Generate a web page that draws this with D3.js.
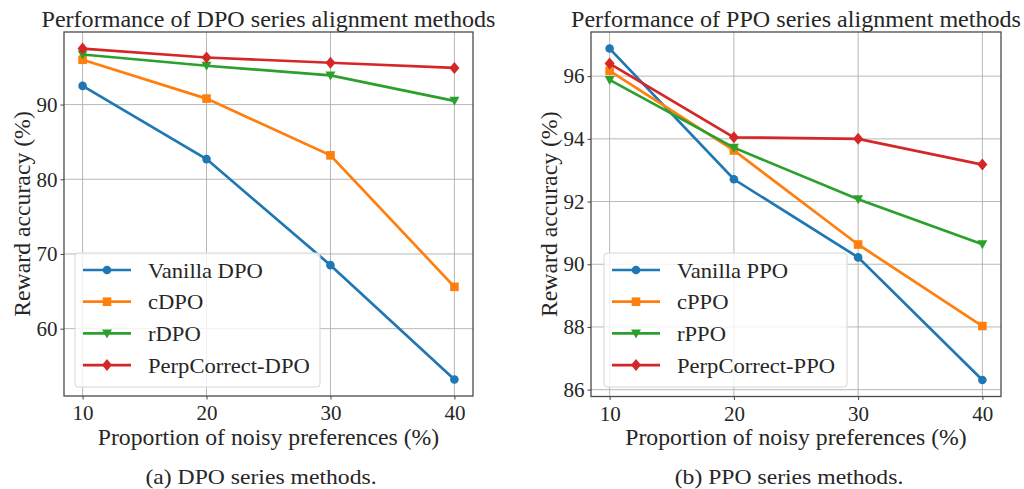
<!DOCTYPE html>
<html>
<head>
<meta charset="utf-8">
<script src="https://cdn.jsdelivr.net/npm/d3@7"></script>
<style>
  body { margin: 0; background: #fff; }
  svg { display: block; }
  text { font-family: "Liberation Serif", "DejaVu Serif", serif; fill: #262626; }
</style>
</head>
<body>
<svg id="chart" width="1024" height="489"></svg>
<script>
// noise proportion (%) on the x axis
const noiseLevels = [10, 20, 30, 40]

// left panel: DPO family
const dpoNames = ["Vanilla DPO", "cDPO", "rDPO", "PerpCorrect-DPO"]
const vanillaDpo = [92.5, 82.7, 68.5, 53.2]
const cDpo = [96.0, 90.8, 83.2, 65.6]
const rDpo = [96.7, 95.2, 93.9, 90.5]
const perpDpo = [97.5, 96.3, 95.6, 94.9]
const dpoTicks = [60, 70, 80, 90]

// right panel: PPO family
const ppoNames = ["Vanilla PPO", "cPPO", "rPPO", "PerpCorrect-PPO"]
const vanillaPpo = [96.88, 92.71, 90.22, 86.31]
const cPpo = [96.17, 93.63, 90.63, 88.03]
const rPpo = [95.88, 93.72, 92.07, 90.64]
const perpPpo = [96.40, 94.05, 94.00, 93.18]
const ppoTicks = [86, 88, 90, 92, 94, 96]

const colors = ["#1f77b4", "#ff7f0e", "#2ca02c", "#d62728"]
const shapes = ["circle", "square", "triangle", "diamond"]

const svg = d3.select("#chart")

// the original used Computer Modern, which runs a bit wider than Times
function widen(sel, f){
    sel.each(function(){
        const w = this.getComputedTextLength()
        d3.select(this).attr("textLength", w * f).attr("lengthAdjust", "spacingAndGlyphs")
    })
    return sel
}

function marker(sel, shape, color){
    if(shape === "circle"){
        sel.append("circle").attr("r", 4.3).attr("fill", color)
    }
    else if(shape === "square"){
        sel.append("rect").attr("x", -4.3).attr("y", -4.3).attr("width", 8.6).attr("height", 8.6).attr("fill", color)
    }
    else if(shape === "triangle"){
        sel.append("path").attr("d", "M-5,-4 L5,-4 L0,5 Z").attr("fill", color)
    }
    else {
        sel.append("path").attr("d", "M0,-6 L5,0 L0,6 L-5,0 Z").attr("fill", color)
    }
}

function drawPanel(opts){
    const g = svg.append("g")
    const allVals = opts.series.flat()
    const lo = d3.min(allVals), hi = d3.max(allVals)
    const pad = (hi - lo) * 0.05

    const x = d3.scaleLinear().domain([8.5, 41.5]).range([opts.left, opts.right])
    const y = d3.scaleLinear().domain([lo - pad, hi + pad]).range([opts.bottom, opts.top])

    // grid
    g.selectAll(".vgrid").data(noiseLevels).join("line")
        .attr("x1", d => x(d)).attr("x2", d => x(d))
        .attr("y1", opts.top).attr("y2", opts.bottom)
        .attr("stroke", "#b0b0b0").attr("stroke-width", 0.9)
    g.selectAll(".hgrid").data(opts.ticks).join("line")
        .attr("x1", opts.left).attr("x2", opts.right)
        .attr("y1", d => y(d)).attr("y2", d => y(d))
        .attr("stroke", "#b0b0b0").attr("stroke-width", 0.9)

    // axes
    const xAxis = g.append("g").attr("transform", `translate(0,${opts.bottom})`)
        .call(d3.axisBottom(x).tickValues(noiseLevels).tickSize(3.5).tickPadding(3))
    const yAxis = g.append("g").attr("transform", `translate(${opts.left},0)`)
        .call(d3.axisLeft(y).tickValues(opts.ticks).tickSize(3.5).tickPadding(3))
    for(const ax of [xAxis, yAxis]){
        ax.select(".domain").remove()
        ax.selectAll("line").attr("stroke", "#444")
        ax.selectAll("text").attr("font-size", 21).attr("fill", "#262626")
            .style("font-family", "Liberation Serif")
    }
    xAxis.selectAll("text").attr("dy", "0.85em")

    // series
    const line = d3.line().x((d, i) => x(noiseLevels[i])).y(d => y(d))
    opts.series.forEach((vals, k) => {
        g.append("path").datum(vals)
            .attr("d", line).attr("fill", "none")
            .attr("stroke", colors[k]).attr("stroke-width", 2.7)
        vals.forEach((v, i) => {
            const m = g.append("g").attr("transform", `translate(${x(noiseLevels[i])},${y(v)})`)
            marker(m, shapes[k], colors[k])
        })
    })

    // frame
    g.append("rect")
        .attr("x", opts.left).attr("y", opts.top)
        .attr("width", opts.right - opts.left).attr("height", opts.bottom - opts.top)
        .attr("fill", "none").attr("stroke", "#4a4a4a").attr("stroke-width", 1.3)

    // legend
    const lg = g.append("g").attr("transform", `translate(${opts.legendX},253)`)
    lg.append("rect").attr("width", opts.legendW).attr("height", 134)
        .attr("rx", 3).attr("fill", "#fff").attr("fill-opacity", 0.8)
        .attr("stroke", "#d6d6d6").attr("stroke-width", 1)
    opts.names.forEach((name, k) => {
        const row = lg.append("g").attr("transform", `translate(0,${17 + k * 31.7})`)
        row.append("line").attr("x1", 8).attr("x2", 56)
            .attr("stroke", colors[k]).attr("stroke-width", 2.7)
        const m = row.append("g").attr("transform", "translate(32,0)")
        marker(m, shapes[k], colors[k])
        widen(row.append("text").attr("x", 73).attr("y", 7.5)
            .attr("font-size", 21).text(name), 1.075)
    })

    // titles
    widen(g.append("text").attr("x", (opts.left + opts.right) / 2).attr("y", 26.5)
        .attr("text-anchor", "middle").attr("font-size", 22.5).text(opts.title), 1.07)
    widen(g.append("text").attr("x", (opts.left + opts.right) / 2).attr("y", 445)
        .attr("text-anchor", "middle").attr("font-size", 22.5)
        .text("Proportion of noisy preferences (%)"), 1.055)
    widen(g.append("text")
        .attr("transform", `translate(${opts.ylabelX},${(opts.top + opts.bottom) / 2}) rotate(-90)`)
        .attr("text-anchor", "middle").attr("font-size", 22.5)
        .text("Reward accuracy (%)"), 1.055)
    widen(g.append("text").attr("x", opts.captionX).attr("y", 483.5)
        .attr("text-anchor", "middle").attr("font-size", 21.5).attr("fill", "#000")
        .text(opts.caption), 1.1)
}

drawPanel({
    left: 64, right: 473, top: 32, bottom: 396,
    series: [vanillaDpo, cDpo, rDpo, perpDpo], names: dpoNames, ticks: dpoTicks,
    title: "Performance of DPO series alignment methods",
    caption: "(a) DPO series methods.", captionX: 261,
    legendX: 75, legendW: 245, ylabelX: 29.5
})

drawPanel({
    left: 591, right: 1001, top: 32, bottom: 396.5,
    series: [vanillaPpo, cPpo, rPpo, perpPpo], names: ppoNames, ticks: ppoTicks,
    title: "Performance of PPO series alignment methods",
    caption: "(b) PPO series methods.", captionX: 789,
    legendX: 604, legendW: 243, ylabelX: 557
})
</script>
</body>
</html>
